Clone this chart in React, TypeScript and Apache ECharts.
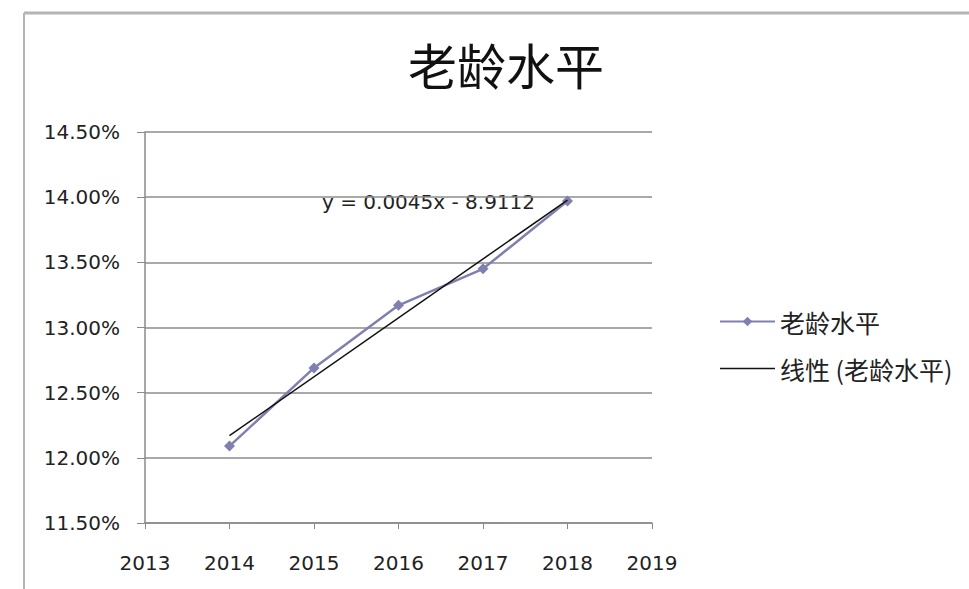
import React, { useEffect, useRef } from "react";
import * as echarts from "echarts";

const titleText = "老龄水平";
const seriesName = "老龄水平";
const trendName = "线性 (老龄水平)";
const equationText = "y = 0.0045x - 8.9112";
const years = [2014, 2015, 2016, 2017, 2018];
const agingLevel = [12.09, 12.69, 13.17, 13.45, 13.97];
const xMin = 2013;
const xMax = 2019;
const yMin = 11.5;
const yMax = 14.5;
const yStep = 0.5;

function linearTrend(xs: number[], ys: number[]) {
  const n = xs.length;
  const mx = xs.reduce((a, b) => a + b, 0) / n;
  const my = ys.reduce((a, b) => a + b, 0) / n;
  let num = 0;
  let den = 0;
  for (let i = 0; i < n; i++) {
    num += (xs[i] - mx) * (ys[i] - my);
    den += (xs[i] - mx) * (xs[i] - mx);
  }
  const slope = num / den;
  const intercept = my - slope * mx;
  return [xs[0], xs[n - 1]].map((x) => [x, intercept + slope * x]);
}

export default function App() {
  const ref = useRef<HTMLDivElement>(null);
  useEffect(() => {
    if (!ref.current) return;
    const chart = echarts.init(ref.current, undefined, { renderer: "svg" });
    const numFont = "DejaVu Sans";
    const cjkFont = "Noto Sans CJK SC";
    const seriesColor = "#8080b0";
    chart.setOption({
      animation: false,
      backgroundColor: "#ffffff",
      title: {
        text: titleText,
        left: 403,
        top: 34,
        textStyle: { fontFamily: cjkFont, fontSize: 49, fontWeight: "normal", color: "#111" },
      },
      legend: {
        orient: "vertical",
        left: 714,
        top: 304,
        itemWidth: 55,
        itemHeight: 12,
        itemGap: 22,
        data: [
          { name: seriesName },
          { name: trendName, icon: "path://M0,0 L110,0 L110,3 L0,3 Z" },
        ],
        textStyle: { fontFamily: cjkFont, fontSize: 25, color: "#222" },
      },
      grid: { left: 145, top: 132, right: 317, bottom: 66 },
      xAxis: {
        type: "value",
        min: xMin,
        max: xMax,
        interval: 1,
        axisLine: { show: true, lineStyle: { color: "#8a8a8a", width: 1.5 } },
        axisTick: { show: true, length: 6, lineStyle: { color: "#8a8a8a" } },
        splitLine: { show: false },
        axisLabel: {
          margin: 30,
          fontFamily: numFont,
          fontSize: 20,
          color: "#222",
          formatter: (v: number) => String(v),
        },
      },
      yAxis: {
        type: "value",
        min: yMin,
        max: yMax,
        interval: yStep,
        axisLine: { show: true, lineStyle: { color: "#8a8a8a", width: 1.5 } },
        axisTick: { show: true, length: 8, lineStyle: { color: "#8a8a8a" } },
        splitLine: { show: true, lineStyle: { color: "#8c8c8c", width: 1.5 } },
        axisLabel: {
          margin: 25,
          fontFamily: numFont,
          fontSize: 20,
          color: "#222",
          formatter: (v: number) => v.toFixed(2) + "%",
        },
      },
      graphic: [
        {
          type: "line",
          shape: { x1: 24, y1: 13, x2: 969, y2: 13 },
          style: { stroke: "#b4b4b4", lineWidth: 3 },
        },
        {
          type: "line",
          shape: { x1: 24, y1: 13, x2: 24, y2: 589 },
          style: { stroke: "#b4b4b4", lineWidth: 2 },
        },
        {
          type: "text",
          left: 322,
          top: 192,
          style: { text: equationText, font: `20px "${numFont}"`, fill: "#222" },
        },
      ],
      series: [
        {
          name: seriesName,
          type: "line",
          data: years.map((y, i) => [y, agingLevel[i]]),
          symbol: "diamond",
          symbolSize: 11,
          lineStyle: { color: seriesColor, width: 2.5 },
          itemStyle: { color: seriesColor },
          z: 2,
        },
        {
          name: trendName,
          type: "line",
          data: linearTrend(years, agingLevel),
          symbol: "none",
          lineStyle: { color: "#111", width: 1.5 },
          itemStyle: { color: "#111" },
          z: 3,
        },
      ],
    });
    return () => chart.dispose();
  }, []);
  return (
    <div
      ref={ref}
      style={{ position: "fixed", left: 0, top: 0, width: 969, height: 589 }}
    />
  );
}
